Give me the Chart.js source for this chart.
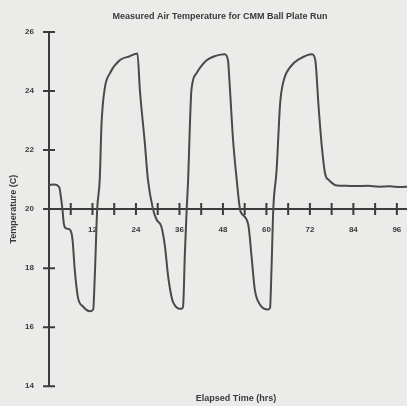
<!DOCTYPE html>
<html>
<head>
<meta charset="utf-8">
<script src="https://cdn.jsdelivr.net/npm/chart.js@4"></script>
<style>
  html, body { margin: 0; padding: 0; background: #ebebe9; }
  canvas { display: block; filter: blur(0.35px); }
</style>
</head>
<body>
<canvas id="grafica1" width="407" height="406"></canvas>
<script>
// Datos
const horas = [0, 1.5, 2.8, 3.3, 3.7, 4.1, 4.7, 5.8, 6.5, 7.1, 8.0, 9.4, 11.2, 12.2, 12.6, 13.3, 14.0, 14.5, 15.4, 16.8, 19.5, 22.3, 24.4,
  25.1, 26.4, 27.3, 28.7, 29.7, 31.0, 32.0, 32.9, 34.3, 36.6, 37.0, 37.5, 38.0, 38.4, 38.9, 39.3, 40.7, 43.5, 46.2, 48.5,
  49.4, 49.9, 50.8, 51.8, 52.7, 53.1, 55.0, 55.9, 56.8, 58.2, 60.5, 61.0, 61.4, 61.9, 62.8, 63.8, 64.8, 66.6, 69.3, 72.6,
  73.5, 74.4, 75.3, 76.2, 77.2, 78.6, 79.5, 82, 85, 88, 91, 94, 97, 99];
const temperaturas = [20.82, 20.83, 20.75, 20.4, 20.0, 19.5, 19.35, 19.3, 18.96, 17.95, 17.0, 16.7, 16.54, 16.6, 17.6, 20.0, 21.0, 22.9, 24.1, 24.6, 25.04, 25.18, 25.27,
  24.0, 22.3, 21.0, 20.0, 19.64, 19.41, 18.74, 17.7, 16.83, 16.62, 16.7, 18.5, 20.0, 21.0, 22.9, 24.03, 24.6, 25.04, 25.2, 25.25,
  25.04, 24.14, 22.34, 21.0, 20.0, 19.86, 19.47, 18.4, 17.27, 16.77, 16.6, 16.65, 17.95, 20.0, 21.3, 23.6, 24.37, 24.82, 25.1, 25.25,
  25.04, 23.47, 22.11, 21.2, 20.99, 20.84, 20.8, 20.79, 20.78, 20.79, 20.76, 20.77, 20.75, 20.76];
const ticksY = [14, 16, 18, 20, 22, 24, 26];
const etiquetasX = [12, 24, 36, 48, 60, 72, 84, 96];

const titulo = 'Measured Air Temperature for CMM Ball Plate Run';
const tituloX = 'Elapsed Time (hrs)';
const tituloY = 'Temperature (C)';

const colorEje = '#3c3c3c';
const colorTexto = '#3a3a3a';

// Marcas que cruzan los ejes + titulos
const marcasCruzadas = {
    id: 'marcasCruzadas',
    afterDraw(chart) {
        const ctx = chart.ctx;
        const x = chart.scales.x;
        const y = chart.scales.y;
        const y0 = y.getPixelForValue(20);
        const x0 = x.getPixelForValue(0);
        ctx.save();
        ctx.strokeStyle = colorEje;
        ctx.lineWidth = 2;
        ctx.beginPath();
        x.ticks.forEach(t => {
            if (t.value <= 0) return;
            const px = x.getPixelForValue(t.value);
            ctx.moveTo(px, y0 - 6);
            ctx.lineTo(px, y0 + 6);
        });
        ticksY.forEach(v => {
            const py = y.getPixelForValue(v);
            ctx.moveTo(x0 - 6, py);
            ctx.lineTo(x0 + 6, py);
        });
        ctx.stroke();

        ctx.fillStyle = colorTexto;
        ctx.textAlign = 'center';
        ctx.textBaseline = 'middle';
        ctx.font = 'bold 9px "Liberation Sans", Arial, sans-serif';
        ctx.fillText(titulo, 220, 17, 238);
        ctx.fillText(tituloX, 236, 399, 85);
        ctx.restore();
    }
};

const puntos = horas.map((h, i) => ({ x: h, y: temperaturas[i] }));

window.miGrafica = new Chart(document.getElementById('grafica1').getContext('2d'), {
    type: 'line',
    data: {
        datasets: [{
            label: tituloY,
            data: puntos,
            borderColor: '#4a4a4a',
            borderWidth: 2,
            pointRadius: 0,
            cubicInterpolationMode: 'monotone',
            fill: false
        }]
    },
    options: {
        responsive: false,
        animation: false,
        devicePixelRatio: 1,
        layout: { padding: { top: 32, bottom: 18, left: 0, right: 0 } },
        plugins: {
            legend: { display: false },
            tooltip: { enabled: false }
        },
        scales: {
            x: {
                type: 'linear',
                position: { y: 20 },
                min: 0,
                max: 98.8,
                grid: { drawOnChartArea: false, drawTicks: false },
                border: { color: colorEje, width: 2 },
                ticks: {
                    stepSize: 6,
                    includeBounds: false,
                    autoSkip: false,
                    maxRotation: 0,
                    padding: 16,
                    color: colorTexto,
                    font: { family: '"Liberation Sans", Arial, sans-serif', size: 8, weight: 'bold' },
                    callback: v => etiquetasX.includes(v) ? String(v) : ''
                },
                afterFit(scale) { scale.paddingLeft = 0; scale.paddingRight = 0; }
            },
            y: {
                min: 14,
                max: 26,
                grid: { drawOnChartArea: false, drawTicks: false },
                border: { color: colorEje, width: 2 },
                ticks: {
                    stepSize: 2,
                    padding: 15,
                    color: colorTexto,
                    font: { family: '"Liberation Sans", Arial, sans-serif', size: 8, weight: 'bold' }
                },
                title: {
                    display: true,
                    text: tituloY,
                    color: colorTexto,
                    font: { family: '"Liberation Sans", Arial, sans-serif', size: 9, weight: 'bold' },
                    padding: { top: 8, bottom: 0 }
                },
                afterFit(scale) { scale.width = 49; }
            }
        }
    },
    plugins: [marcasCruzadas]
});
</script>
</body>
</html>
